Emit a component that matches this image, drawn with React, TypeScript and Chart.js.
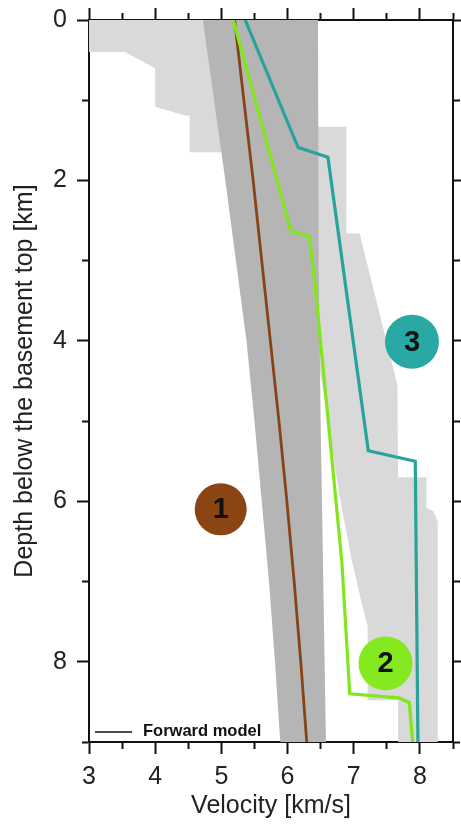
import React, { useEffect, useRef } from 'react';
import { Chart, registerables } from 'chart.js';

Chart.register(...registerables);

// ---- axes ----
const velocityMin = 3;
const velocityMax = 8.5;
const depthMin = 0;
const depthMax = 9;
const velocityTickLabels = [3, 4, 5, 6, 7, 8];
const depthTickLabels = [0, 2, 4, 6, 8];

// ---- light grey envelope (velocity km/s, depth km) ----
const envelopeVelocity = [
  3.0, 6.46, 6.46, 6.89, 6.89, 7.09, 7.66, 7.67, 8.1, 8.1, 8.2, 8.27, 8.27,
  7.67, 7.67, 7.21, 7.21, 7.12, 7.04, 6.97, 6.8, 6.68, 6.58, 6.47, 5.6, 5.2,
  4.52, 4.52, 4.45, 4.0, 4.0, 3.54, 3.0,
];
const envelopeDepth = [
  0, 0, 1.33, 1.33, 2.66, 2.66, 4.55, 5.7, 5.7, 6.08, 6.12, 6.25, 9,
  9, 8.48, 8.48, 7.56, 7.27, 6.98, 6.73, 6.0, 5.4, 4.8, 4.3, 4.3, 1.65,
  1.65, 1.19, 1.19, 1.08, 0.6, 0.4, 0.4,
];

// ---- dark grey band ----
const bandVelocity = [
  4.72, 4.89, 5.06, 5.22, 5.38, 5.5, 5.61, 5.72, 5.81, 5.89,
  6.58, 6.54, 6.5, 6.47, 6.46,
];
const bandDepth = [
  0, 1, 2, 3, 4, 5, 6, 7, 8, 9,
  9, 7, 5, 3, 0,
];

// ---- models ----
const model1Velocity = [5.2, 5.34, 5.48, 5.61, 5.74, 5.87, 5.99, 6.1, 6.2, 6.29];
const model1Depth = [0, 1, 2, 3, 4, 5, 6, 7, 8, 9];

const model2Velocity = [5.18, 6.05, 6.33, 6.41, 6.82, 6.94, 7.68, 7.84, 7.89];
const model2Depth = [0, 2.63, 2.7, 3.25, 6.75, 8.4, 8.45, 8.51, 9];

const model3Velocity = [5.36, 6.16, 6.61, 7.22, 7.93, 7.97];
const model3Depth = [0, 1.59, 1.71, 5.37, 5.5, 9];

// ---- numbered markers ----
const markerNames = ['1', '2', '3'];
const markerVelocity = [4.99, 7.48, 7.88];
const markerDepth = [6.1, 8.02, 4.01];

const legendText = 'Forward model';

const zip = (xs: number[], ys: number[]) => xs.map((x, i) => ({ x, y: ys[i] }));

const FONT = '"Liberation Sans", Arial, Helvetica, sans-serif';
const AXIS = '#111111';
const TEXT = '#222222';

const isXMajor = (v: number) => velocityTickLabels.includes(v);
const isYMajor = (v: number) => depthTickLabels.includes(v);

const dashFor = (major: (v: number) => boolean) => (ctx: any) => {
  const v = ctx && ctx.tick ? ctx.tick.value : undefined;
  if (v === undefined) return [];
  return major(v) ? [] : [6, 100];
};
const dashOffsetFor = (major: (v: number) => boolean, outerFirst: boolean) => (ctx: any) => {
  const v = ctx && ctx.tick ? ctx.tick.value : undefined;
  if (v === undefined || major(v) || !outerFirst) return 0;
  return 101;
};

const fixSize = (w: number | null, h: number | null) => (s: any) => {
  if (w !== null) s.width = w;
  if (h !== null) s.height = h;
  s.paddingTop = 0;
  s.paddingBottom = 0;
  s.paddingLeft = 0;
  s.paddingRight = 0;
};

const markerLabelPlugin = {
  id: 'markerLabels',
  afterDatasetsDraw(chart: any) {
    const idx = chart.data.datasets.findIndex((d: any) => d.label === 'markers');
    if (idx < 0) return;
    const meta = chart.getDatasetMeta(idx);
    const ctx = chart.ctx;
    ctx.save();
    ctx.fillStyle = '#111111';
    ctx.font = `bold 29px ${FONT}`;
    ctx.textAlign = 'center';
    ctx.textBaseline = 'middle';
    meta.data.forEach((el: any, i: number) => {
      ctx.fillText(markerNames[i], el.x, el.y + 1);
    });
    ctx.restore();
  },
};

const legendPlugin = {
  id: 'insideLegend',
  afterDraw(chart: any) {
    const { ctx, chartArea } = chart;
    ctx.save();
    ctx.strokeStyle = '#111111';
    ctx.lineWidth = 1.5;
    ctx.beginPath();
    ctx.moveTo(chartArea.left + 6, chartArea.bottom - 10);
    ctx.lineTo(chartArea.left + 43, chartArea.bottom - 10);
    ctx.stroke();
    ctx.fillStyle = '#111111';
    ctx.font = `bold 16.5px ${FONT}`;
    ctx.textAlign = 'left';
    ctx.textBaseline = 'middle';
    ctx.fillText(legendText, chartArea.left + 54, chartArea.bottom - 11);
    ctx.restore();
  },
};

export default function App() {
  const canvasRef = useRef<HTMLCanvasElement | null>(null);

  useEffect(() => {
    if (!canvasRef.current) return;
    Chart.defaults.font.family = FONT;

    const chart = new Chart(canvasRef.current, {
      type: 'scatter',
      data: {
        datasets: [
          {
            type: 'bubble',
            label: 'markers',
            data: markerVelocity.map((x, i) => ({ x, y: markerDepth[i], r: i === 0 ? 26 : 27 })),
            backgroundColor: ['#8b4513', '#84ea1f', '#2aa8a3'],
            borderWidth: 0,
            order: 1,
          } as any,
          {
            label: 'model3',
            data: zip(model3Velocity, model3Depth),
            showLine: true,
            borderColor: '#28a29d',
            borderWidth: 3.2,
            pointRadius: 0,
            tension: 0,
            fill: false,
            order: 2,
          },
          {
            label: 'model2',
            data: zip(model2Velocity, model2Depth),
            showLine: true,
            borderColor: '#82e61c',
            borderWidth: 3.2,
            pointRadius: 0,
            tension: 0,
            fill: false,
            order: 3,
          },
          {
            label: 'model1',
            data: zip(model1Velocity, model1Depth),
            showLine: true,
            borderColor: '#86431a',
            borderWidth: 2.8,
            pointRadius: 0,
            tension: 0,
            fill: false,
            order: 4,
          },
          {
            label: 'band',
            data: zip(bandVelocity, bandDepth),
            showLine: true,
            borderWidth: 0,
            borderColor: 'rgba(0,0,0,0)',
            backgroundColor: '#b5b5b5',
            pointRadius: 0,
            tension: 0,
            fill: 'shape',
            order: 9,
          } as any,
          {
            label: 'envelope',
            data: zip(envelopeVelocity, envelopeDepth),
            showLine: true,
            borderWidth: 0,
            borderColor: 'rgba(0,0,0,0)',
            backgroundColor: '#d9d9d9',
            pointRadius: 0,
            tension: 0,
            fill: 'shape',
            order: 10,
          } as any,
        ],
      },
      options: {
        responsive: false,
        animation: false,
        events: [],
        layout: { padding: 0, autoPadding: false },
        plugins: {
          legend: { display: false },
          tooltip: { enabled: false },
        },
        scales: {
          x: {
            type: 'linear',
            position: 'bottom',
            min: velocityMin,
            max: velocityMax,
            ticks: {
              stepSize: 0.5,
              autoSkip: false,
              maxRotation: 0,
              padding: 8,
              color: TEXT,
              font: { size: 25 },
              callback: (v: any) => (isXMajor(Number(v)) ? String(v) : ''),
            },
            grid: {
              drawOnChartArea: false,
              drawTicks: true,
              tickLength: 12,
              tickWidth: 2,
              tickColor: AXIS,
              tickBorderDash: dashFor(isXMajor),
              tickBorderDashOffset: dashOffsetFor(isXMajor, false),
            },
            border: { display: true, color: AXIS, width: 2 },
            title: {
              display: true,
              text: 'Velocity [km/s]',
              color: TEXT,
              font: { size: 25 },
              padding: { top: 0, bottom: 4 },
            },
            afterFit: fixSize(null, 83),
          },
          x2: {
            type: 'linear',
            position: 'top',
            min: velocityMin,
            max: velocityMax,
            ticks: { display: false, stepSize: 0.5, autoSkip: false },
            grid: {
              drawOnChartArea: false,
              drawTicks: true,
              tickLength: 12,
              tickWidth: 2,
              tickColor: AXIS,
              tickBorderDash: dashFor(isXMajor),
              tickBorderDashOffset: dashOffsetFor(isXMajor, true),
            },
            border: { display: true, color: AXIS, width: 2 },
            afterFit: fixSize(null, 20),
          },
          y: {
            type: 'linear',
            position: 'left',
            reverse: true,
            min: depthMin,
            max: depthMax,
            ticks: {
              stepSize: 1,
              autoSkip: false,
              padding: 10,
              color: TEXT,
              font: { size: 25 },
              callback: (v: any) => (isYMajor(Number(v)) ? String(v) : ''),
            },
            grid: {
              drawOnChartArea: false,
              drawTicks: true,
              tickLength: 12,
              tickWidth: 2,
              tickColor: AXIS,
              tickBorderDash: dashFor(isYMajor),
              tickBorderDashOffset: dashOffsetFor(isYMajor, true),
            },
            border: { display: true, color: AXIS, width: 2 },
            title: {
              display: true,
              text: 'Depth below the basement top [km]',
              color: TEXT,
              font: { size: 25 },
              padding: { top: 10, bottom: 0 },
            },
            afterFit: fixSize(89, null),
          },
          y2: {
            type: 'linear',
            position: 'right',
            reverse: true,
            min: depthMin,
            max: depthMax,
            ticks: { display: false, stepSize: 1, autoSkip: false },
            grid: {
              drawOnChartArea: false,
              drawTicks: true,
              tickLength: 12,
              tickWidth: 2,
              tickColor: AXIS,
              tickBorderDash: dashFor(isYMajor),
              tickBorderDashOffset: dashOffsetFor(isYMajor, false),
            },
            border: { display: true, color: AXIS, width: 2 },
            afterFit: fixSize(8, null),
          },
        },
      } as any,
      plugins: [markerLabelPlugin, legendPlugin],
    });

    return () => chart.destroy();
  }, []);

  return (
    <div style={{ position: 'absolute', left: 0, top: 0, width: 461, height: 825, background: '#ffffff' }}>
      <canvas ref={canvasRef} width={461} height={825} style={{ display: 'block' }} />
    </div>
  );
}
